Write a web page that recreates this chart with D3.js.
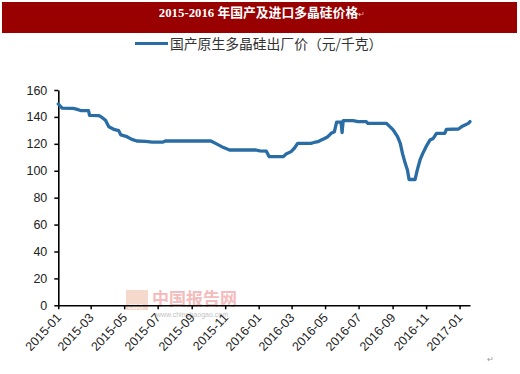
<!DOCTYPE html>
<html>
<head>
<meta charset="utf-8">
<script src="https://cdn.jsdelivr.net/npm/d3@7"></script>
<style>
  body { margin:0; background:#fff; }
  svg { display:block; font-family:"Liberation Sans", Arial, sans-serif; }
  .cjk { font-family:"Noto Sans CJK SC", sans-serif; }
</style>
</head>
<body>
<svg id="chart"></svg>
<script>
// price data
var dates = ["2015-01-01","2015-01-08","2015-01-28","2015-02-03","2015-02-12","2015-02-25",
  "2015-02-27","2015-03-16","2015-03-21","2015-03-28","2015-04-03","2015-04-12","2015-04-21",
  "2015-04-25","2015-05-06","2015-05-15","2015-05-24","2015-06-09","2015-06-21","2015-07-10",
  "2015-07-15","2015-10-06","2015-10-18","2015-10-29","2015-11-09","2015-12-27","2016-01-03",
  "2016-01-15","2016-01-20","2016-02-15","2016-02-20","2016-02-29","2016-03-06","2016-03-12",
  "2016-04-05","2016-04-11","2016-04-18","2016-04-24","2016-04-30","2016-05-06","2016-05-12",
  "2016-05-18","2016-05-22","2016-05-30","2016-06-01","2016-06-03","2016-06-21","2016-06-30",
  "2016-07-15","2016-07-18","2016-08-21","2016-08-27","2016-09-02","2016-09-10","2016-09-15",
  "2016-09-19","2016-09-24","2016-09-28","2016-10-01","2016-10-12","2016-10-16","2016-10-21",
  "2016-10-26","2016-11-01","2016-11-08","2016-11-14","2016-11-20","2016-12-05","2016-12-08",
  "2016-12-30","2017-01-05","2017-01-11","2017-01-17","2017-01-20"];
var prices = [149.6,146.5,146.4,145.8,144.6,144.6,
  141.2,141.0,139.8,137.5,132.7,130.8,129.8,
  126.6,125.3,123.3,122.1,121.8,121.2,121.2,
  122.1,122.1,119.6,117.2,115.4,115.4,114.7,
  114.5,110.5,110.5,112.4,114.2,116.7,120.4,
  120.4,121.0,121.6,122.8,124.0,125.3,127.8,
  129.0,136.2,136.2,128.3,137.2,137.2,136.5,
  136.5,135.2,135.2,132.8,130.3,125.3,120.4,
  112.9,105.5,100.6,93.5,93.5,100.6,108.0,
  112.9,117.9,122.8,124.0,127.8,127.8,130.8,
  131.0,132.8,134.0,135.2,136.5];

var xTickLabels = ["2015-01","2015-03","2015-05","2015-07","2015-09","2015-11","2016-01",
  "2016-03","2016-05","2016-07","2016-09","2016-11","2017-01"];
var yTicks = [0,20,40,60,80,100,120,140,160];

var titleText = "2015-2016 年国产及进口多晶硅价格";
var seriesName = "国产原生多晶硅出厂价（元/千克）";

var parseDay = d3.timeParse("%Y-%m-%d");
var parseMonth = d3.timeParse("%Y-%m");

var drawTitle = function(svg)
{
    svg.append("rect")
        .attr("x",2)
        .attr("y",2)
        .attr("width",515)
        .attr("height",31)
        .attr("fill","#990000");

    var t = svg.append("text")
        .attr("x",262)
        .attr("y",17)
        .attr("text-anchor","middle")
        .attr("fill","#fff")
        .attr("font-weight","bold")
        .attr("font-size",12.8)
        .attr("font-family","'Liberation Serif','Noto Sans CJK SC',serif");
    t.append("tspan").text(titleText);
    t.append("tspan")
        .attr("fill","#e8b0b0")
        .attr("font-size",8)
        .attr("font-weight","normal")
        .text("↵");
}

var drawLegend = function(svg,color)
{
    svg.append("line")
        .attr("x1",135)
        .attr("x2",168)
        .attr("y1",43.5)
        .attr("y2",43.5)
        .attr("stroke",color)
        .attr("stroke-width",3);

    svg.append("text")
        .classed("cjk",true)
        .attr("x",170)
        .attr("y",49)
        .attr("font-size",13.8)
        .attr("fill","#333")
        .text(seriesName);
}

var drawWatermark = function(svg)
{
    var wm = svg.append("g").attr("opacity",0.7);
    wm.append("rect")
        .attr("x",126)
        .attr("y",290)
        .attr("width",22)
        .attr("height",20)
        .attr("fill","#f3c9b8");
    wm.append("text")
        .attr("x",128)
        .attr("y",309)
        .attr("font-size",7)
        .attr("fill","#fff")
        .text("CBG");
    wm.append("text")
        .classed("cjk",true)
        .attr("x",152)
        .attr("y",305)
        .attr("font-size",17)
        .attr("font-weight","bold")
        .attr("fill","#f0a0a0")
        .text("中国报告网");
    wm.append("text")
        .attr("x",156)
        .attr("y",317)
        .attr("font-size",7)
        .attr("fill","#aaa")
        .text("www.chinabaogao.com");
}

var drawChart = function(target)
{
    var screen = {width:520, height:374};
    var svg = d3.select(target)
        .attr("width",screen.width)
        .attr("height",screen.height);

    var lineColor = "#2a6ca4";

    drawTitle(svg);
    drawLegend(svg,lineColor);
    drawWatermark(svg);

    var xScale = d3.scaleTime()
        .domain([parseDay("2015-01-01"),parseDay("2017-01-20")])
        .range([58.3,470]);

    var yScale = d3.scaleLinear()
        .domain([0,160])
        .range([305.3,90]);

    var xAxis = d3.axisBottom(xScale)
        .tickValues(xTickLabels.map(parseMonth))
        .tickFormat(d3.timeFormat("%Y-%m"))
        .tickSize(4)
        .tickSizeOuter(0);

    var yAxis = d3.axisLeft(yScale)
        .tickValues(yTicks)
        .tickSize(4)
        .tickSizeOuter(0);

    var gx = svg.append("g")
        .attr("transform","translate(0,"+yScale(0)+")")
        .call(xAxis);
    gx.select(".domain").attr("stroke","#000").attr("stroke-width",1.6);
    gx.selectAll(".tick line").attr("stroke","#000").attr("stroke-width",1.5);
    gx.selectAll(".tick text")
        .attr("font-size",12.5)
        .attr("fill","#222")
        .attr("text-anchor","end")
        .attr("transform","translate(0,10) rotate(-47)")
        .attr("dy","0.35em")
        .attr("y",0)
        .attr("x",0);

    var gy = svg.append("g")
        .attr("transform","translate("+xScale.range()[0]+",0)")
        .call(yAxis);
    gy.select(".domain").attr("stroke","#000").attr("stroke-width",1.6);
    gy.selectAll(".tick line").attr("stroke","#000").attr("stroke-width",1.5);
    gy.selectAll(".tick text")
        .attr("font-size",12.5)
        .attr("fill","#222")
        .attr("x",-11)
        .style("font-family","'Liberation Sans Narrow','Liberation Sans',Arial,sans-serif");

    var points = dates.map(function(d,i)
    {
        return {date:parseDay(d), price:prices[i]};
    });

    var lineGenerator = d3.line()
        .x(function(p){return xScale(p.date)})
        .y(function(p){return yScale(p.price)});

    svg.append("path")
        .datum(points)
        .attr("d",lineGenerator)
        .attr("fill","none")
        .attr("stroke",lineColor)
        .attr("stroke-width",3.3)
        .attr("stroke-linejoin","round")
        .attr("stroke-linecap","round");

    svg.append("text")
        .attr("x",487)
        .attr("y",362)
        .attr("font-size",8)
        .attr("fill","#999")
        .text("↵");
}

drawChart("#chart");
</script>
</body>
</html>
